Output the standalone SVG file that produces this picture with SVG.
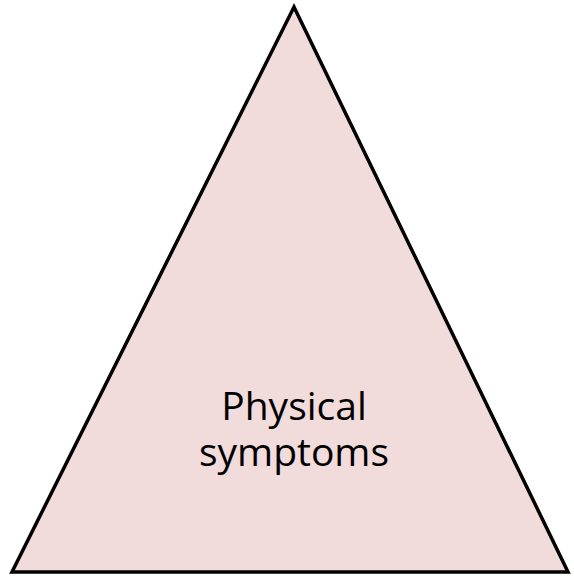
<svg xmlns="http://www.w3.org/2000/svg" width="574" height="576" viewBox="0 0 574 576">
<style>
.tri{fill:#f1dbdb;stroke:#000;stroke-width:3.5;stroke-linejoin:miter}
.lbl{font-family:"Open Sans","Liberation Sans",sans-serif;font-size:39px;fill:#000;text-anchor:middle}
</style>
<rect width="574" height="576" fill="#fff"/>
<g id="triangle">
<polygon class="tri" points="294,7 12,572 568,572"/>
<text class="lbl" x="294" y="420">Physical<tspan x="294" y="466">symptoms</tspan></text>
</g>
</svg>
